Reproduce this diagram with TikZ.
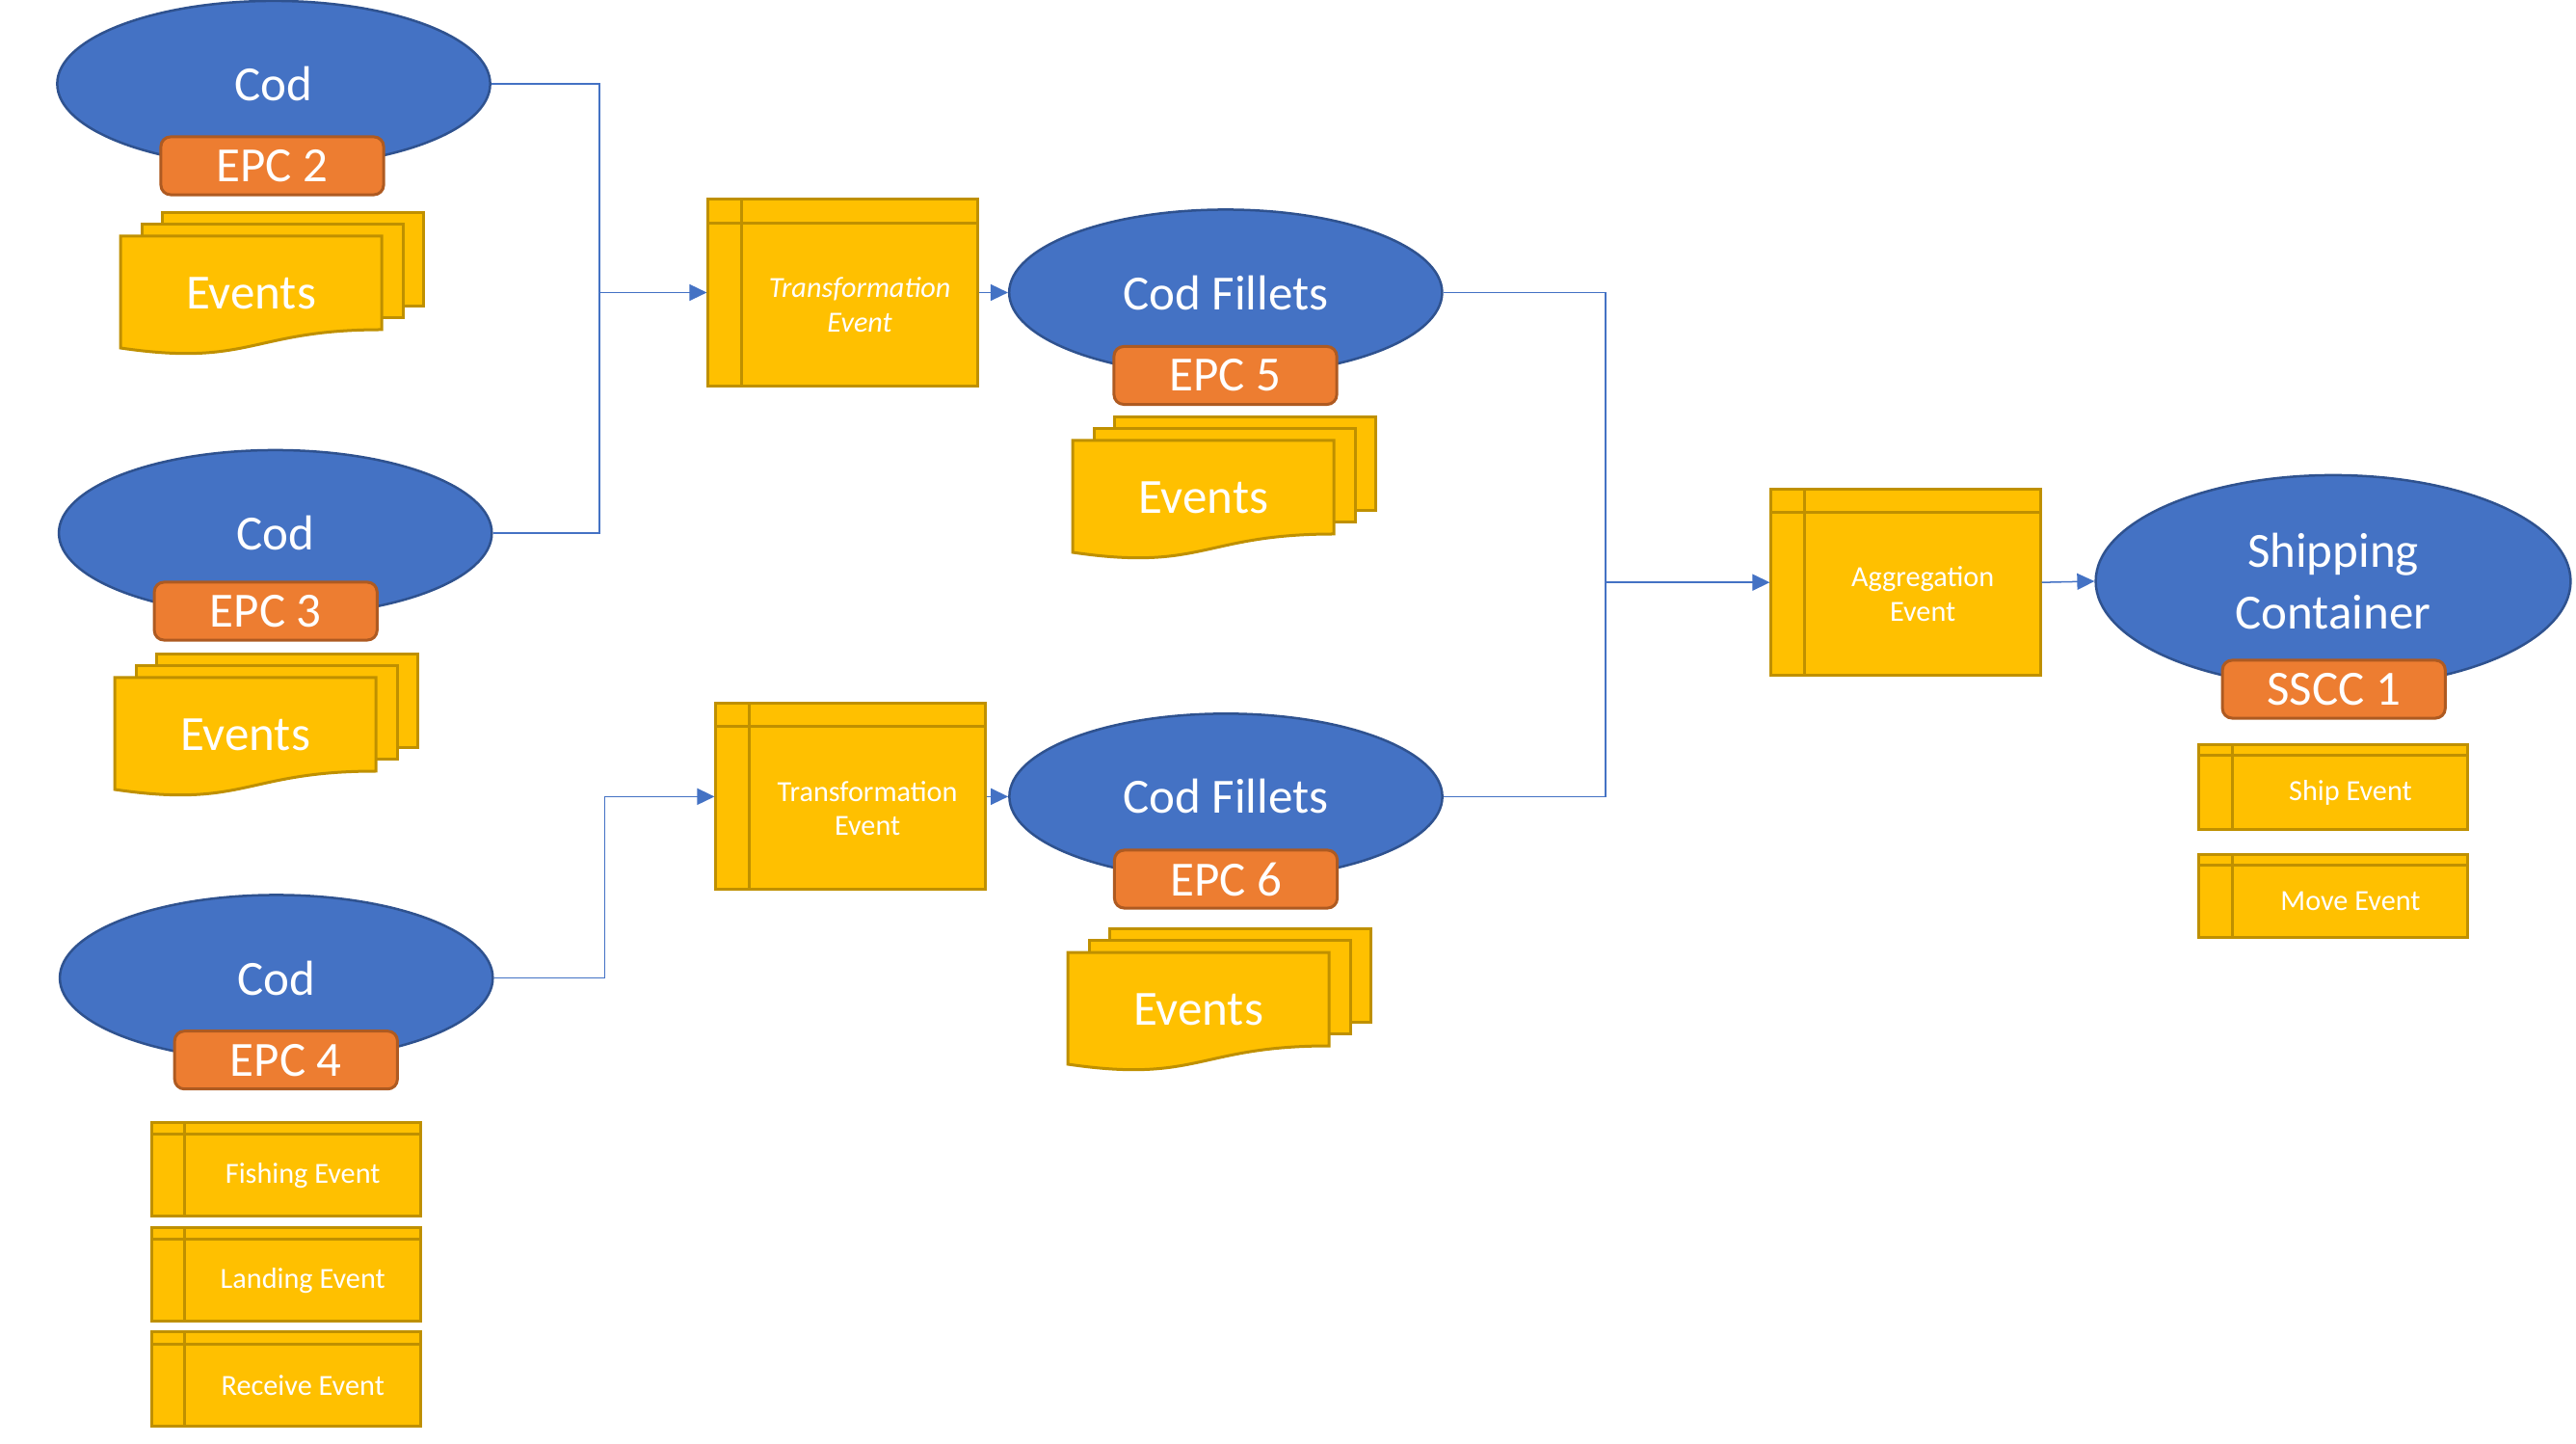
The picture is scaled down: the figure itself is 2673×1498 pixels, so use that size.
\documentclass[tikz,border=0pt]{standalone}
\usepackage{fontspec}
\setmainfont{Carlito}
\usetikzlibrary{arrows.meta}
\usetikzlibrary{shapes.geometric}
\usetikzlibrary{calc}

\definecolor{lotblue}{HTML}{4472C4}
\definecolor{lotedge}{HTML}{2F528F}
\definecolor{epcorange}{HTML}{ED7D31}
\definecolor{epcedge}{HTML}{AE5A21}
\definecolor{evyellow}{HTML}{FFC000}
\definecolor{evedge}{HTML}{BF9000}

\tikzset{
  bigtext/.style={text=white, font=\fontsize{14.5}{18.2}\selectfont, inner sep=0pt},
  smalltext/.style={text=white, font=\fontsize{8.6}{10.2}\selectfont, align=center, inner sep=0pt},
  lot/.style={ellipse, draw=lotedge, fill=lotblue, line width=0.025cm, minimum width=4.49cm, minimum height=1.72cm, bigtext, align=center},
  epc/.style={rectangle, rounded corners=0.1cm, draw=epcedge, fill=epcorange, line width=0.03cm, minimum width=2.31cm, minimum height=0.6cm, bigtext},
  evpage/.style={draw=evedge, fill=evyellow, line width=0.03cm},
  evbox/.style={rectangle, evpage, minimum width=2.79cm, path picture={
      \draw[evedge, line width=0.03cm]
        ($(path picture bounding box.north west)!0.125!(path picture bounding box.north east)$) --
        ($(path picture bounding box.south west)!0.125!(path picture bounding box.south east)$)
        ($(path picture bounding box.north west)!0.125!(path picture bounding box.south west)$) --
        ($(path picture bounding box.north east)!0.125!(path picture bounding box.south east)$);
    }},
  conn/.style={lotblue, line width=0.015cm},
  flow/.style={conn, arrows={-Triangle[length=0.18cm, width=0.17cm]}}
}

\newcommand{\docstack}[3]{%
  \begin{scope}[shift={(#2,#3)}]
    \filldraw[evpage] (43,-24.5) rectangle (314,72.5);
    \filldraw[evpage] (22,-12.5) rectangle (293,84.5);
    \filldraw[evpage] (0,0) -- (271,0) -- (271,97) .. controls (135.5,97) and (135.5,136) .. (0,116) -- cycle;
    \node[bigtext] (#1) at (135.5,59) {Events};
  \end{scope}}

\begin{document}
\begin{tikzpicture}[x=0.01cm, y=-0.01cm]
  \useasboundingbox (0,0) rectangle (2673,1498);

  \node[lot] (cod1) at (284,87) {Cod};
  \node[epc] (epc2) at (282.5,172) {EPC 2};
  \docstack{ev1}{125}{245}

  \node[lot] (cod2) at (285.7,553) {Cod};
  \node[epc] (epc3) at (275.7,634) {EPC 3};
  \docstack{ev3}{119}{703}

  \node[lot] (cod4) at (286.7,1014.5) {Cod};
  \node[epc] (epc4) at (296.8,1099.7) {EPC 4};
  \node[evbox, minimum height=0.97cm] (fish) at (296.6,1213) {};
  \node[smalltext] (fisht) at ($(fish.center)!0.125!(fish.south east)$) {Fishing Event};
  \node[evbox, minimum height=0.97cm] (land) at (296.6,1322) {};
  \node[smalltext] (landt) at ($(land.center)!0.125!(land.south east)$) {Landing Event};
  \node[evbox, minimum height=0.97cm] (recv) at (296.6,1430.5) {};
  \node[smalltext] (recvt) at ($(recv.center)!0.125!(recv.south east)$) {Receive Event};

  \node[evbox, minimum height=1.93cm] (tf1) at (874.5,303.5) {};
  \node[smalltext] (tf1t) at ($(tf1.center)!0.125!(tf1.south east)$) {\textit{Transformation}\\\textit{Event}};
  \node[evbox, minimum height=1.93cm] (tf2) at (882.5,826.4) {};
  \node[smalltext] (tf2t) at ($(tf2.center)!0.125!(tf2.south east)$) {Transformation\\Event};

  \node[lot] (cf1) at (1271.8,303.5) {Cod Fillets};
  \node[epc] (epc5) at (1271.5,389.5) {EPC 5};
  \docstack{ev2}{1113}{457}

  \node[lot] (cf2) at (1272,826.4) {Cod Fillets};
  \node[epc] (epc6) at (1272,912) {EPC 6};
  \docstack{ev4}{1108}{988}

  \node[evbox, minimum height=1.93cm] (agg) at (1977.5,604.2) {};
  \node[smalltext] (aggt) at ($(agg.center)!0.125!(agg.south east)$) {Aggregation\\Event};

  \node[lot, minimum width=4.925cm, minimum height=2.2cm] (ship) at (2421,603) {Shipping\\Container};
  \node[epc] (sscc) at (2421.7,715) {SSCC 1};
  \node[evbox, minimum height=0.873cm] (shipev) at (2421.3,816.4) {};
  \node[smalltext] (shipevt) at ($(shipev.center)!0.125!(shipev.south east)$) {Ship Event};
  \node[evbox, minimum height=0.86cm] (moveev) at (2421.3,929.7) {};
  \node[smalltext] (moveevt) at ($(moveev.center)!0.125!(moveev.south east)$) {Move Event};

  \coordinate (j1) at (622,303.5);
  \draw[conn] (cod1.east) -| (j1);
  \draw[conn] (cod2.east) -| (j1);
  \draw[flow] (j1) -- (tf1.west);
  \draw[flow] (tf1.east) -- (cf1.west);

  \coordinate (j2) at (627.5,826.4);
  \draw[conn] (cod4.east) -| (j2);
  \draw[flow] (j2) -- (tf2.west);
  \draw[flow] (tf2.east) -- (cf2.west);

  \coordinate (j3) at (1666,604.2);
  \draw[conn] (cf1.east) -| (j3);
  \draw[conn] (cf2.east) -| (j3);
  \draw[flow] (j3) -- (agg.west);
  \draw[flow] (agg.east) -- (ship.west);
\end{tikzpicture}
\end{document}
